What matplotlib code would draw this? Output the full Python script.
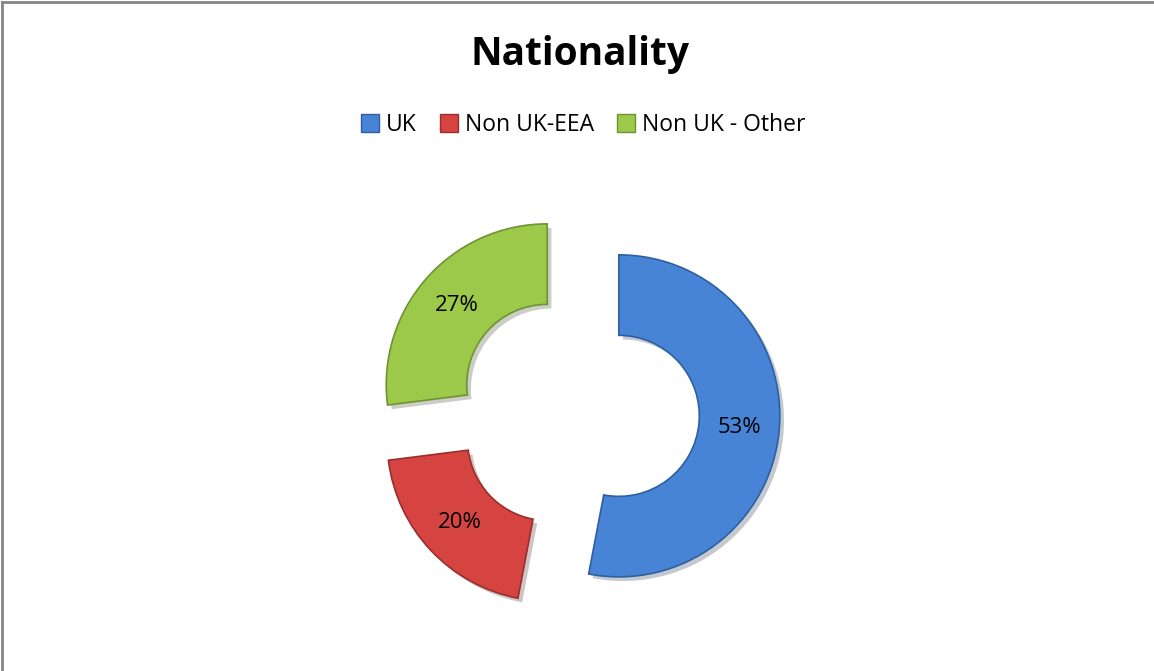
import matplotlib
matplotlib.use("Agg")
import matplotlib.pyplot as plt
from matplotlib.lines import Line2D
import matplotlib.patheffects as pe

title = "Nationality"
categories = ["UK", "Non UK-EEA", "Non UK - Other"]
values = [53, 20, 27]
colors = ["#4784D6", "#D64442", "#9CC94A"]
edge_colors = ["#2F5F9E", "#9A2E2C", "#6F9233"]

W, H = 1154, 671
R = 161
fig = plt.figure(figsize=(W / 100, H / 100), dpi=100)
fig.patch.set_facecolor("white")
ax = fig.add_axes([0, 0, 1, 1])

font = "Open Sans"

wedges, texts, autotexts = ax.pie(
    values,
    colors=colors,
    startangle=90,
    counterclock=False,
    center=(578, H - 412),
    radius=R,
    explode=[41] * len(values),
    autopct="%1.0f%%",
    pctdistance=0.75,
    wedgeprops=dict(width=R * 0.5, linewidth=1.2),
    textprops=dict(fontsize=16, family=font, color="black"),
    frame=True,
)
for w, ec in zip(wedges, edge_colors):
    w.set_edgecolor(ec)
    w.set_path_effects([pe.SimplePatchShadow(offset=(3, -3), alpha=0.25), pe.Normal()])
ax.set_xlim(0, W)
ax.set_ylim(0, H)
ax.set_aspect("equal")
ax.axis("off")

fig.text(580 / W, 1 - 55 / H, title, ha="center", va="center",
         fontsize=28, fontweight="bold", family=font)

handles = [Line2D([0], [0], marker="s", linestyle="none", markersize=13,
                  markerfacecolor=c, markeredgecolor=ec, markeredgewidth=1)
           for c, ec in zip(colors, edge_colors)]
fig.legend(handles, categories, loc="center", bbox_to_anchor=(583 / W, 1 - 125 / H),
           ncol=3, frameon=False, prop=dict(family=font, size=16.5),
           handlelength=0.8, handletextpad=0.3, columnspacing=1.0)

# frame lines on left and top
fig.add_artist(Line2D([2 / W, 2 / W], [0, 1 - 2 / H], color="#868686", linewidth=2,
                      transform=fig.transFigure))
fig.add_artist(Line2D([2 / W, 1], [1 - 2 / H, 1 - 2 / H], color="#868686", linewidth=2,
                      transform=fig.transFigure))

fig.savefig("out.png", dpi=100, facecolor="white")
